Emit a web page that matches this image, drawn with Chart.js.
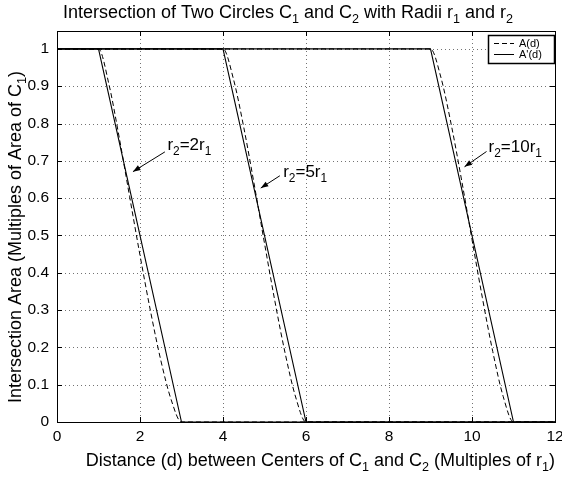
<!DOCTYPE html>
<html>
<head>
<meta charset="utf-8">
<script src="https://cdn.jsdelivr.net/npm/chart.js@4.4.0/dist/chart.umd.min.js"></script>
<style>
  html, body { margin: 0; padding: 0; background: #fff; }
</style>
</head>
<body>
<canvas id="chart" width="562" height="478"></canvas>
<script>
// Tick positions
const xTickValues = [0, 2, 4, 6, 8, 10, 12]
const yTickValues = [0, 0.1, 0.2, 0.3, 0.4, 0.5, 0.6, 0.7, 0.8, 0.9, 1]

// r2 = 2 r1 : exact area A(d) and linear approximation A'(d)
const dist2 = [0, 1, 1.25, 1.5, 1.75, 2, 2.25, 2.5, 2.75, 3, 12]
const area2 = [1, 1, 0.906, 0.762, 0.604, 0.447, 0.299, 0.166, 0.060, 0, 0]
const distLin2 = [0, 1, 3, 12]
const areaLin2 = [1, 1, 0, 0]

// r2 = 5 r1
const dist5 = [0, 4, 4.25, 4.5, 4.75, 5, 5.25, 5.5, 5.75, 6, 12]
const area5 = [1, 1, 0.920, 0.790, 0.638, 0.479, 0.324, 0.183, 0.067, 0, 0]
const distLin5 = [0, 4, 6, 12]
const areaLin5 = [1, 1, 0, 0]

// r2 = 10 r1
const dist10 = [0, 9, 9.25, 9.5, 9.75, 10, 10.25, 10.5, 10.75, 11, 12]
const area10 = [1, 1, 0.924, 0.797, 0.648, 0.489, 0.333, 0.189, 0.069, 0, 0]
const distLin10 = [0, 9, 11, 12]
const areaLin10 = [1, 1, 0, 0]

// Legend labels
const legendLabels = ["A(d)", "A'(d)"]

// Arrow annotations: label pieces [text, isSubscript], tail and tip in data units
const notes = [
  { parts: [["r", 0], ["2", 1], ["=2r", 0], ["1", 1]], tail: [2.6, 0.724], tip: [1.83, 0.671], at: [2.66, 0.729] },
  { parts: [["r", 0], ["2", 1], ["=5r", 0], ["1", 1]], tail: [5.37, 0.66], tip: [4.91, 0.627], at: [5.45, 0.658] },
  { parts: [["r", 0], ["2", 1], ["=10r", 0], ["1", 1]], tail: [10.35, 0.725], tip: [9.82, 0.684], at: [10.4, 0.725] },
]

const FONT = "'Liberation Sans', Arial, Helvetica, sans-serif"
const LABEL_SIZE = 18

const toPoints = (xs, ys) => xs.map((x, i) => ({ x: x, y: ys[i] }))

const dashed = (xs, ys) => ({
  data: toPoints(xs, ys),
  borderColor: "#000",
  borderWidth: 1,
  borderDash: [5, 3],
  cubicInterpolationMode: "monotone",
  pointRadius: 0,
})

const solid = (xs, ys) => ({
  data: toPoints(xs, ys),
  borderColor: "#000",
  borderWidth: 1.1,
  tension: 0,
  pointRadius: 0,
})

// Draw a string made of normal and subscript pieces, returns width
function richText(ctx, parts, x, y, size, measureOnly) {
  let w = 0
  for (const [t, sub] of parts) {
    ctx.font = (sub ? size * 0.7 : size) + "px " + FONT
    if (!measureOnly) ctx.fillText(t, x + w, sub ? y + size * 0.3 : y)
    w += ctx.measureText(t).width
  }
  return w
}

// Dotted grid, boxed axes with inward ticks
const framePlugin = {
  id: "frame",
  beforeDatasetsDraw(chart) {
    const { ctx, chartArea: a, scales } = chart
    ctx.save()
    ctx.strokeStyle = "rgba(0,0,0,0.55)"
    ctx.lineWidth = 1
    ctx.setLineDash([1, 3])
    xTickValues.forEach(v => {
      if (v === 0 || v === 12) return
      const x = Math.round(scales.x.getPixelForValue(v)) + 0.5
      ctx.beginPath(); ctx.moveTo(x, a.top); ctx.lineTo(x, a.bottom); ctx.stroke()
    })
    yTickValues.forEach(v => {
      if (v === 0) return
      const y = Math.round(scales.y.getPixelForValue(v)) + 0.5
      ctx.beginPath(); ctx.moveTo(a.left, y); ctx.lineTo(a.right, y); ctx.stroke()
    })
    ctx.restore()
  },
  afterDraw(chart) {
    const { ctx, chartArea: a, scales } = chart
    ctx.save()
    ctx.strokeStyle = "#000"
    ctx.lineWidth = 1
    ctx.strokeRect(Math.round(a.left) + 0.5, Math.round(a.top) + 0.5,
      Math.round(a.right - a.left), Math.round(a.bottom - a.top))
    const t = 5
    xTickValues.forEach(v => {
      const x = Math.round(scales.x.getPixelForValue(v)) + 0.5
      ctx.beginPath()
      ctx.moveTo(x, a.bottom); ctx.lineTo(x, a.bottom - t)
      ctx.moveTo(x, a.top); ctx.lineTo(x, a.top + t)
      ctx.stroke()
    })
    yTickValues.forEach(v => {
      const y = Math.round(scales.y.getPixelForValue(v)) + 0.5
      ctx.beginPath()
      ctx.moveTo(a.left, y); ctx.lineTo(a.left + t, y)
      ctx.moveTo(a.right, y); ctx.lineTo(a.right - t, y)
      ctx.stroke()
    })

    // legend box
    const lx = 488, ly = 35, lw = 66, lh = 28
    ctx.fillStyle = "#fff"
    ctx.fillRect(lx, ly, lw, lh)
    ctx.lineWidth = 1.5
    ctx.strokeRect(lx + 0.5, ly + 0.5, lw, lh)
    ctx.lineWidth = 1
    ctx.fillStyle = "#000"
    ctx.font = "11px " + FONT
    ctx.textBaseline = "middle"
    ;[[5, 3], []].forEach((dash, i) => {
      const yy = ly + 8.5 + i * 11
      ctx.setLineDash(dash)
      ctx.beginPath(); ctx.moveTo(lx + 6, yy); ctx.lineTo(lx + 26, yy); ctx.stroke()
      ctx.setLineDash([])
      ctx.fillText(legendLabels[i], lx + 31, yy)
    })

    // arrows and their labels
    ctx.textBaseline = "alphabetic"
    notes.forEach(n => {
      const x1 = scales.x.getPixelForValue(n.tail[0]), y1 = scales.y.getPixelForValue(n.tail[1])
      const x2 = scales.x.getPixelForValue(n.tip[0]), y2 = scales.y.getPixelForValue(n.tip[1])
      ctx.beginPath(); ctx.moveTo(x1, y1); ctx.lineTo(x2, y2); ctx.stroke()
      const ang = Math.atan2(y2 - y1, x2 - x1), h = 8, s = 0.35
      ctx.beginPath()
      ctx.moveTo(x2, y2)
      ctx.lineTo(x2 - h * Math.cos(ang - s), y2 - h * Math.sin(ang - s))
      ctx.lineTo(x2 - h * Math.cos(ang + s), y2 - h * Math.sin(ang + s))
      ctx.closePath(); ctx.fill()
      const tx = scales.x.getPixelForValue(n.at[0]), ty = scales.y.getPixelForValue(n.at[1])
      richText(ctx, n.parts, tx, ty, 17)
    })

    // title
    const title = [["Intersection of Two Circles C", 0], ["1", 1], [" and C", 0], ["2", 1],
      [" with Radii r", 0], ["1", 1], [" and r", 0], ["2", 1]]
    let w = richText(ctx, title, 0, 0, LABEL_SIZE, true)
    richText(ctx, title, 288 - w / 2, 18, LABEL_SIZE)

    // x axis title
    const xt = [["Distance (d) between Centers of C", 0], ["1", 1], [" and C", 0], ["2", 1],
      [" (Multiples of r", 0], ["1", 1], [")", 0]]
    w = richText(ctx, xt, 0, 0, LABEL_SIZE, true)
    richText(ctx, xt, 555 - w, 466, LABEL_SIZE)

    // y axis title
    const yt = [["Intersection Area (Multiples of Area of C", 0], ["1", 1], [")", 0]]
    w = richText(ctx, yt, 0, 0, LABEL_SIZE, true)
    ctx.translate(21, 237)
    ctx.rotate(-Math.PI / 2)
    richText(ctx, yt, -w / 2, 0, LABEL_SIZE)
    ctx.restore()
  },
}

new Chart(document.getElementById("chart"), {
  type: "line",
  data: {
    datasets: [
      dashed(dist2, area2), solid(distLin2, areaLin2),
      dashed(dist5, area5), solid(distLin5, areaLin5),
      dashed(dist10, area10), solid(distLin10, areaLin10),
    ],
  },
  options: {
    responsive: false,
    animation: false,
    layout: { padding: { top: 31, right: 7, left: 0, bottom: 0 } },
    plugins: { legend: { display: false }, tooltip: { enabled: false } },
    scales: {
      x: {
        type: "linear", min: 0, max: 12,
        afterFit: s => { s.height = 56; s.paddingLeft = 0; s.paddingRight = 0 },
        afterBuildTicks: s => { s.ticks = xTickValues.map(v => ({ value: v })) },
        grid: { display: false, drawTicks: false },
        border: { display: false },
        ticks: { color: "#000", padding: 5, maxRotation: 0, font: { family: FONT, size: 15.5 } },
      },
      y: {
        type: "linear", min: 0, max: 1.048,
        afterFit: s => { s.width = 57; s.paddingTop = 0; s.paddingBottom = 0 },
        afterBuildTicks: s => { s.ticks = yTickValues.map(v => ({ value: v })) },
        grid: { display: false, drawTicks: false },
        border: { display: false },
        ticks: { color: "#000", padding: 8, font: { family: FONT, size: 15.5 },
          callback: v => String(Math.round(v * 10) / 10) },
      },
    },
  },
  plugins: [framePlugin],
})
</script>
</body>
</html>
